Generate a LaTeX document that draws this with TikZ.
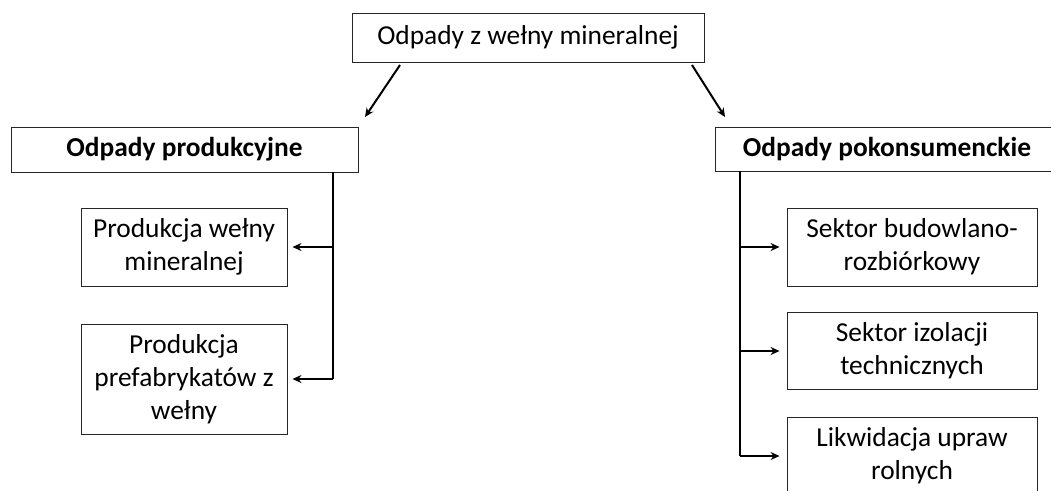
\documentclass[tikz,border=0pt]{standalone}
\usepackage{fontspec}
\setmainfont{Carlito}
\usetikzlibrary{arrows.meta}
\begin{document}
\begin{tikzpicture}[x=1pt,y=-1pt,
  box/.style={draw=black!85, line width=0.9pt, fill=white, inner sep=0pt,
    align=center, font=\fontsize{27.4}{33}\selectfont},
  head/.style={box, font=\fontsize{27.4}{33}\selectfont\bfseries},
  conn/.style={line width=2pt, -{Stealth[length=9pt,width=8pt]}},
  trunk/.style={line width=2pt}]
\clip (0,0) rectangle (1051,490);
\fill[white] (0,0) rectangle (1051,490);

% root
\node[box, minimum width=352pt, minimum height=49pt] (top) at (528,37.5) {Odpady z wełny mineralnej};

% two main categories
\node[head, minimum width=347pt, minimum height=45pt] (prod) at (184.5,149.5) {Odpady produkcyjne};
\node[head, minimum width=344pt, minimum height=44pt] (post) at (887,149) {Odpady pokonsumenckie};

% production waste sources
\node[box, minimum width=206pt, minimum height=78pt] (p1) at (184,247) {Produkcja wełny\\mineralnej};
\node[box, minimum width=206pt, minimum height=110pt] (p2) at (184,379) {Produkcja\\prefabrykatów z\\wełny};

% post-consumer waste sources
\node[box, minimum width=250pt, minimum height=78pt] (s1) at (912,247) {Sektor budowlano-\\rozbiórkowy};
\node[box, minimum width=250pt, minimum height=77pt] (s2) at (912,351) {Sektor izolacji\\technicznych};
\node[box, minimum width=250pt, minimum height=78pt] (s3) at (912,456) {Likwidacja upraw\\rolnych};

% arrows from the root
\coordinate (la) at (400,65);
\coordinate (lb) at (365,117);
\coordinate (ra) at (692,65);
\coordinate (rb) at (725,117);
\draw[conn] (la) -- (lb);
\draw[conn] (ra) -- (rb);

% left tree
\coordinate (lt) at (333,172);
\draw[trunk] (lt) -- (lt |- p2.east);
\draw[conn] (lt |- p1.east) -- ([xshift=5pt]p1.east);
\draw[conn] (lt |- p2.east) -- ([xshift=5pt]p2.east);

% right tree
\coordinate (rt) at (740,171);
\draw[trunk] (rt) -- (rt |- s3.west);
\draw[conn] (rt |- s1.west) -- ([xshift=-7pt]s1.west);
\draw[conn] (rt |- s2.west) -- ([xshift=-7pt]s2.west);
\draw[conn] (rt |- s3.west) -- ([xshift=-7pt]s3.west);
\end{tikzpicture}
\end{document}
